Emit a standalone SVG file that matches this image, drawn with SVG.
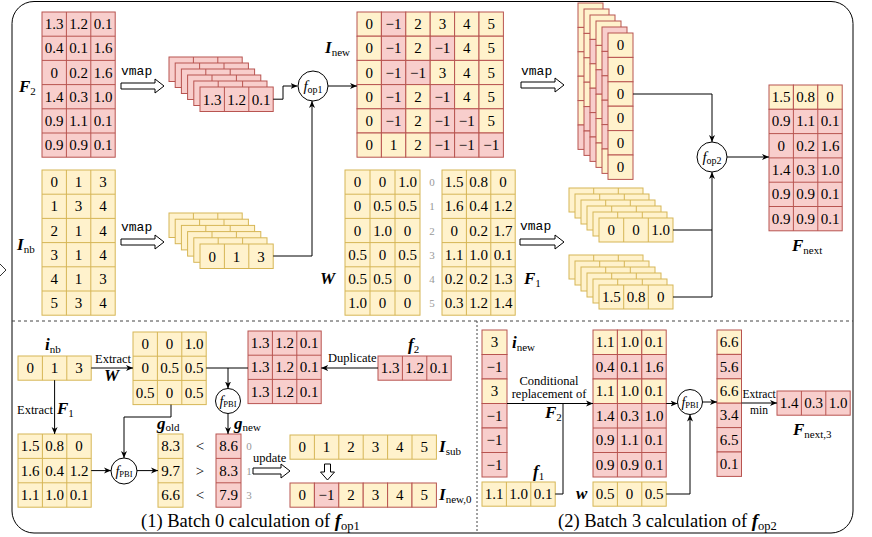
<svg xmlns="http://www.w3.org/2000/svg" xmlns:xlink="http://www.w3.org/1999/xlink" width="872" height="537" viewBox="0 0 872 537">
<style>
.y{fill:#fff2cc;stroke:#d6b656;stroke-width:1}
.r{fill:#f8cecc;stroke:#b85450;stroke-width:1}
.yr{fill:#fff2cc;stroke:#b85450;stroke-width:1}
.gy{fill:none;stroke:#d6b656;stroke-width:1}
.gr{fill:none;stroke:#b85450;stroke-width:1}
.t{font-family:"Liberation Serif",serif;font-size:15px;text-anchor:middle;fill:#000}
.s{font-family:"Liberation Serif",serif;font-size:12.5px;fill:#000}
.sc{font-family:"Liberation Serif",serif;font-size:12.5px;fill:#000;text-anchor:middle}
.m{font-family:"Liberation Serif",serif;font-size:17px;font-weight:bold;font-style:italic;fill:#000}
.sub{font-size:11px;font-weight:normal;font-style:normal}
.idx{font-family:"Liberation Serif",serif;font-size:11px;fill:#999;text-anchor:middle}
.vm{font-family:"Liberation Mono",monospace;font-size:13px;fill:#000}
.cap{font-family:"Liberation Serif",serif;font-size:18.5px;fill:#000}
.c{fill:#fff;stroke:#000;stroke-width:1}
.ci{font-family:"Liberation Serif",serif;font-size:15px;font-style:italic;text-anchor:middle}
.ln{fill:none;stroke:#000;stroke-width:1}
.ha{fill:#fff;stroke:#000;stroke-width:1}
</style>
<defs>
<marker id="a" markerWidth="8" markerHeight="8" refX="7" refY="4" orient="auto" markerUnits="userSpaceOnUse"><path d="M0,1L7,4L0,7L2,4z" fill="#000" stroke="none"/></marker>
<g id="row3r"><rect class="r" width="73.2" height="24.5"/><path class="gr" d="M24.4,0V24.5M48.8,0V24.5"/></g>
<g id="row3y"><rect class="y" width="74" height="24"/><path class="gy" d="M24.7,0V24M49.3,0V24"/></g>
<g id="row3yb"><rect class="y" width="73.2" height="24.5"/><path class="gy" d="M24.4,0V24.5M48.8,0V24.5"/></g>
</defs>

<!-- frame -->
<rect x="12" y="1.5" width="841" height="531.5" rx="22" ry="22" fill="none" stroke="#000" stroke-width="1"/>
<path d="M0,264L6,270L0,276" fill="none" stroke="#333" stroke-width="1"/>
<path d="M12,321H853" fill="none" stroke="#444" stroke-width="1" stroke-dasharray="3,3"/>
<path d="M477,321V533" fill="none" stroke="#444" stroke-width="1" stroke-dasharray="2,2"/>

<!-- F2 -->
<g id="F2" transform="translate(42,12)">
<rect class="r" width="73.2" height="145.2"/>
<path class="gr" d="M24.4,0V145.2M48.8,0V145.2M0,24.2H73.2M0,48.4H73.2M0,72.6H73.2M0,96.8H73.2M0,121H73.2"/>
<text class="t" x="12.2" y="17.1">1.3</text><text class="t" x="36.6" y="17.1">1.2</text><text class="t" x="61" y="17.1">0.1</text>
<text class="t" x="12.2" y="41.3">0.4</text><text class="t" x="36.6" y="41.3">0.1</text><text class="t" x="61" y="41.3">1.6</text>
<text class="t" x="12.2" y="65.5">0</text><text class="t" x="36.6" y="65.5">0.2</text><text class="t" x="61" y="65.5">1.6</text>
<text class="t" x="12.2" y="89.7">1.4</text><text class="t" x="36.6" y="89.7">0.3</text><text class="t" x="61" y="89.7">1.0</text>
<text class="t" x="12.2" y="113.9">0.9</text><text class="t" x="36.6" y="113.9">1.1</text><text class="t" x="61" y="113.9">0.1</text>
<text class="t" x="12.2" y="138.1">0.9</text><text class="t" x="36.6" y="138.1">0.9</text><text class="t" x="61" y="138.1">0.1</text>
</g>
<text class="m" x="19" y="92">F<tspan class="sub" dy="3">2</tspan></text>

<!-- I_nb -->
<g id="Inb" transform="translate(42,170)">
<rect class="y" width="73.2" height="145.2"/>
<path class="gy" d="M24.4,0V145.2M48.8,0V145.2M0,24.2H73.2M0,48.4H73.2M0,72.6H73.2M0,96.8H73.2M0,121H73.2"/>
<text class="t" x="12.2" y="17.1">0</text><text class="t" x="36.6" y="17.1">1</text><text class="t" x="61" y="17.1">3</text>
<text class="t" x="12.2" y="41.3">1</text><text class="t" x="36.6" y="41.3">3</text><text class="t" x="61" y="41.3">4</text>
<text class="t" x="12.2" y="65.5">2</text><text class="t" x="36.6" y="65.5">1</text><text class="t" x="61" y="65.5">4</text>
<text class="t" x="12.2" y="89.7">3</text><text class="t" x="36.6" y="89.7">1</text><text class="t" x="61" y="89.7">4</text>
<text class="t" x="12.2" y="113.9">4</text><text class="t" x="36.6" y="113.9">1</text><text class="t" x="61" y="113.9">3</text>
<text class="t" x="12.2" y="138.1">5</text><text class="t" x="36.6" y="138.1">3</text><text class="t" x="61" y="138.1">4</text>
</g>
<text class="m" x="17" y="250">I<tspan class="sub" dy="3">nb</tspan></text>

<!-- F2 stack -->
<g id="F2stack">
<use xlink:href="#row3r" x="169" y="57"/>
<use xlink:href="#row3r" x="175.2" y="63"/>
<use xlink:href="#row3r" x="181.4" y="69"/>
<use xlink:href="#row3r" x="187.6" y="75"/>
<use xlink:href="#row3r" x="193.8" y="81"/>
<use xlink:href="#row3r" x="200" y="87"/>
<text class="t" x="212.2" y="104.5">1.3</text><text class="t" x="236.6" y="104.5">1.2</text><text class="t" x="261" y="104.5">0.1</text>
</g>

<!-- I_nb stack -->
<g id="Inbstack">
<use xlink:href="#row3yb" x="169" y="213"/>
<use xlink:href="#row3yb" x="175.2" y="219.2"/>
<use xlink:href="#row3yb" x="181.4" y="225.4"/>
<use xlink:href="#row3yb" x="187.6" y="231.6"/>
<use xlink:href="#row3yb" x="193.8" y="237.8"/>
<use xlink:href="#row3yb" x="200" y="244"/>
<text class="t" x="212.2" y="261.5">0</text><text class="t" x="236.6" y="261.5">1</text><text class="t" x="261" y="261.5">3</text>
</g>

<!-- f_op1 -->
<g id="fop1">
<circle class="c" cx="313" cy="86" r="15"/>
<text class="ci" x="313" y="91">f<tspan font-size="10" font-style="normal" dy="2">op1</tspan></text>
</g>

<!-- I_new -->
<g id="Inew" transform="translate(357,12)">
<rect class="yr" x="0" y="0" width="24.4" height="24.2"/><rect class="r" x="24.4" y="0" width="24.4" height="24.2"/><rect class="yr" x="48.8" y="0" width="24.4" height="24.2"/><rect class="yr" x="73.2" y="0" width="24.4" height="24.2"/><rect class="yr" x="97.6" y="0" width="24.4" height="24.2"/><rect class="yr" x="122" y="0" width="24.4" height="24.2"/>
<rect class="yr" x="0" y="24.2" width="24.4" height="24.2"/><rect class="r" x="24.4" y="24.2" width="24.4" height="24.2"/><rect class="yr" x="48.8" y="24.2" width="24.4" height="24.2"/><rect class="r" x="73.2" y="24.2" width="24.4" height="24.2"/><rect class="yr" x="97.6" y="24.2" width="24.4" height="24.2"/><rect class="yr" x="122" y="24.2" width="24.4" height="24.2"/>
<rect class="yr" x="0" y="48.4" width="24.4" height="24.2"/><rect class="r" x="24.4" y="48.4" width="24.4" height="24.2"/><rect class="r" x="48.8" y="48.4" width="24.4" height="24.2"/><rect class="yr" x="73.2" y="48.4" width="24.4" height="24.2"/><rect class="yr" x="97.6" y="48.4" width="24.4" height="24.2"/><rect class="yr" x="122" y="48.4" width="24.4" height="24.2"/>
<rect class="yr" x="0" y="72.6" width="24.4" height="24.2"/><rect class="r" x="24.4" y="72.6" width="24.4" height="24.2"/><rect class="yr" x="48.8" y="72.6" width="24.4" height="24.2"/><rect class="r" x="73.2" y="72.6" width="24.4" height="24.2"/><rect class="yr" x="97.6" y="72.6" width="24.4" height="24.2"/><rect class="yr" x="122" y="72.6" width="24.4" height="24.2"/>
<rect class="yr" x="0" y="96.8" width="24.4" height="24.2"/><rect class="r" x="24.4" y="96.8" width="24.4" height="24.2"/><rect class="yr" x="48.8" y="96.8" width="24.4" height="24.2"/><rect class="r" x="73.2" y="96.8" width="24.4" height="24.2"/><rect class="r" x="97.6" y="96.8" width="24.4" height="24.2"/><rect class="yr" x="122" y="96.8" width="24.4" height="24.2"/>
<rect class="yr" x="0" y="121" width="24.4" height="24.2"/><rect class="yr" x="24.4" y="121" width="24.4" height="24.2"/><rect class="yr" x="48.8" y="121" width="24.4" height="24.2"/><rect class="r" x="73.2" y="121" width="24.4" height="24.2"/><rect class="r" x="97.6" y="121" width="24.4" height="24.2"/><rect class="r" x="122" y="121" width="24.4" height="24.2"/>
<text class="t" x="12.2" y="17.1">0</text><text class="t" x="36.6" y="17.1">−1</text><text class="t" x="61" y="17.1">2</text><text class="t" x="85.4" y="17.1">3</text><text class="t" x="109.8" y="17.1">4</text><text class="t" x="134.2" y="17.1">5</text>
<text class="t" x="12.2" y="41.3">0</text><text class="t" x="36.6" y="41.3">−1</text><text class="t" x="61" y="41.3">2</text><text class="t" x="85.4" y="41.3">−1</text><text class="t" x="109.8" y="41.3">4</text><text class="t" x="134.2" y="41.3">5</text>
<text class="t" x="12.2" y="65.5">0</text><text class="t" x="36.6" y="65.5">−1</text><text class="t" x="61" y="65.5">−1</text><text class="t" x="85.4" y="65.5">3</text><text class="t" x="109.8" y="65.5">4</text><text class="t" x="134.2" y="65.5">5</text>
<text class="t" x="12.2" y="89.7">0</text><text class="t" x="36.6" y="89.7">−1</text><text class="t" x="61" y="89.7">2</text><text class="t" x="85.4" y="89.7">−1</text><text class="t" x="109.8" y="89.7">4</text><text class="t" x="134.2" y="89.7">5</text>
<text class="t" x="12.2" y="113.9">0</text><text class="t" x="36.6" y="113.9">−1</text><text class="t" x="61" y="113.9">2</text><text class="t" x="85.4" y="113.9">−1</text><text class="t" x="109.8" y="113.9">−1</text><text class="t" x="134.2" y="113.9">5</text>
<text class="t" x="12.2" y="138.1">0</text><text class="t" x="36.6" y="138.1">1</text><text class="t" x="61" y="138.1">2</text><text class="t" x="85.4" y="138.1">−1</text><text class="t" x="109.8" y="138.1">−1</text><text class="t" x="134.2" y="138.1">−1</text>
</g>
<text class="m" x="325" y="53">I<tspan class="sub" dy="3">new</tspan></text>

<!-- W -->
<g id="W" transform="translate(345,170)">
<rect class="y" width="75" height="145.2"/>
<path class="gy" d="M25,0V145.2M50,0V145.2M0,24.2H75M0,48.4H75M0,72.6H75M0,96.8H75M0,121H75"/>
<text class="t" x="12.5" y="17.1">0</text><text class="t" x="37.5" y="17.1">0</text><text class="t" x="62.5" y="17.1">1.0</text>
<text class="t" x="12.5" y="41.3">0</text><text class="t" x="37.5" y="41.3">0.5</text><text class="t" x="62.5" y="41.3">0.5</text>
<text class="t" x="12.5" y="65.5">0</text><text class="t" x="37.5" y="65.5">1.0</text><text class="t" x="62.5" y="65.5">0</text>
<text class="t" x="12.5" y="89.7">0.5</text><text class="t" x="37.5" y="89.7">0</text><text class="t" x="62.5" y="89.7">0.5</text>
<text class="t" x="12.5" y="113.9">0.5</text><text class="t" x="37.5" y="113.9">0.5</text><text class="t" x="62.5" y="113.9">0</text>
<text class="t" x="12.5" y="138.1">1.0</text><text class="t" x="37.5" y="138.1">0</text><text class="t" x="62.5" y="138.1">0</text>
</g>
<text class="m" x="320" y="284">W</text>
<g id="idx1">
<text class="idx" x="432" y="186">0</text><text class="idx" x="432" y="210">1</text><text class="idx" x="432" y="234.5">2</text><text class="idx" x="432" y="258.5">3</text><text class="idx" x="432" y="283">4</text><text class="idx" x="432" y="307">5</text>
</g>

<!-- F1 -->
<g id="F1" transform="translate(442,170)">
<rect class="y" width="73.2" height="145.2"/>
<path class="gy" d="M24.4,0V145.2M48.8,0V145.2M0,24.2H73.2M0,48.4H73.2M0,72.6H73.2M0,96.8H73.2M0,121H73.2"/>
<text class="t" x="12.2" y="17.1">1.5</text><text class="t" x="36.6" y="17.1">0.8</text><text class="t" x="61" y="17.1">0</text>
<text class="t" x="12.2" y="41.3">1.6</text><text class="t" x="36.6" y="41.3">0.4</text><text class="t" x="61" y="41.3">1.2</text>
<text class="t" x="12.2" y="65.5">0</text><text class="t" x="36.6" y="65.5">0.2</text><text class="t" x="61" y="65.5">1.7</text>
<text class="t" x="12.2" y="89.7">1.1</text><text class="t" x="36.6" y="89.7">1.0</text><text class="t" x="61" y="89.7">0.1</text>
<text class="t" x="12.2" y="113.9">0.2</text><text class="t" x="36.6" y="113.9">0.2</text><text class="t" x="61" y="113.9">1.3</text>
<text class="t" x="12.2" y="138.1">0.3</text><text class="t" x="36.6" y="138.1">1.2</text><text class="t" x="61" y="138.1">1.4</text>
</g>
<text class="m" x="524" y="284">F<tspan class="sub" dy="3">1</tspan></text>

<!-- vertical stacks (I_new columns) -->
<g id="Inewstack">
<g transform="translate(578,3)">
<rect class="yr" y="0" width="25" height="24.4"/><rect class="yr" y="24.4" width="25" height="24.4"/><rect class="yr" y="48.8" width="25" height="24.4"/><rect class="yr" y="73.2" width="25" height="24.4"/><rect class="yr" y="97.6" width="25" height="24.4"/><rect class="r" y="122" width="25" height="24.4"/>
</g>
<g transform="translate(584,9)">
<rect class="yr" y="0" width="25" height="24.4"/><rect class="yr" y="24.4" width="25" height="24.4"/><rect class="yr" y="48.8" width="25" height="24.4"/><rect class="yr" y="73.2" width="25" height="24.4"/><rect class="r" y="97.6" width="25" height="24.4"/><rect class="r" y="122" width="25" height="24.4"/>
</g>
<g transform="translate(590,15)">
<rect class="yr" y="0" width="25" height="24.4"/><rect class="r" y="24.4" width="25" height="24.4"/><rect class="yr" y="48.8" width="25" height="24.4"/><rect class="r" y="73.2" width="25" height="24.4"/><rect class="r" y="97.6" width="25" height="24.4"/><rect class="r" y="122" width="25" height="24.4"/>
</g>
<g transform="translate(596,21)">
<rect class="yr" y="0" width="25" height="24.4"/><rect class="yr" y="24.4" width="25" height="24.4"/><rect class="r" y="48.8" width="25" height="24.4"/><rect class="yr" y="73.2" width="25" height="24.4"/><rect class="yr" y="97.6" width="25" height="24.4"/><rect class="yr" y="122" width="25" height="24.4"/>
</g>
<g transform="translate(602,27)">
<rect class="r" y="0" width="25" height="24.4"/><rect class="r" y="24.4" width="25" height="24.4"/><rect class="r" y="48.8" width="25" height="24.4"/><rect class="r" y="73.2" width="25" height="24.4"/><rect class="r" y="97.6" width="25" height="24.4"/><rect class="yr" y="122" width="25" height="24.4"/>
</g>
<g transform="translate(608,33)">
<rect class="yr" y="0" width="25" height="24.4"/><rect class="yr" y="24.4" width="25" height="24.4"/><rect class="yr" y="48.8" width="25" height="24.4"/><rect class="yr" y="73.2" width="25" height="24.4"/><rect class="yr" y="97.6" width="25" height="24.4"/><rect class="yr" y="122" width="25" height="24.4"/>
<text class="t" x="12.5" y="17.1">0</text><text class="t" x="12.5" y="41.5">0</text><text class="t" x="12.5" y="65.9">0</text><text class="t" x="12.5" y="90.3">0</text><text class="t" x="12.5" y="114.7">0</text><text class="t" x="12.5" y="139.1">0</text>
</g>
</g>

<!-- W stack right -->
<g id="Wstack">
<use xlink:href="#row3y" x="569" y="188"/>
<use xlink:href="#row3y" x="575" y="194"/>
<use xlink:href="#row3y" x="581" y="200"/>
<use xlink:href="#row3y" x="587" y="206"/>
<use xlink:href="#row3y" x="593" y="212"/>
<use xlink:href="#row3y" x="599" y="218"/>
<text class="t" x="611.3" y="235">0</text><text class="t" x="636" y="235">0</text><text class="t" x="660.7" y="235">1.0</text>
</g>
<!-- F1 stack -->
<g id="F1stack">
<use xlink:href="#row3y" x="569" y="255"/>
<use xlink:href="#row3y" x="575" y="261"/>
<use xlink:href="#row3y" x="581" y="267"/>
<use xlink:href="#row3y" x="587" y="273"/>
<use xlink:href="#row3y" x="593" y="279"/>
<use xlink:href="#row3y" x="599" y="285"/>
<text class="t" x="611.3" y="302">1.5</text><text class="t" x="636" y="302">0.8</text><text class="t" x="660.7" y="302">0</text>
</g>

<!-- f_op2 -->
<g id="fop2">
<circle class="c" cx="712" cy="157" r="15"/>
<text class="ci" x="712" y="162">f<tspan font-size="10" font-style="normal" dy="2">op2</tspan></text>
</g>

<!-- F_next -->
<g id="Fnext" transform="translate(769,85)">
<rect class="yr" x="0" y="0" width="24.4" height="24.3"/><rect class="yr" x="24.4" y="0" width="24.4" height="24.3"/><rect class="yr" x="48.8" y="0" width="24.4" height="24.3"/>
<rect class="r" y="24.3" width="73.2" height="121.5"/>
<path class="gr" d="M24.4,24.3V145.8M48.8,24.3V145.8M0,48.6H73.2M0,72.9H73.2M0,97.2H73.2M0,121.5H73.2"/>
<text class="t" x="12.2" y="17.1">1.5</text><text class="t" x="36.6" y="17.1">0.8</text><text class="t" x="61" y="17.1">0</text>
<text class="t" x="12.2" y="41.4">0.9</text><text class="t" x="36.6" y="41.4">1.1</text><text class="t" x="61" y="41.4">0.1</text>
<text class="t" x="12.2" y="65.7">0</text><text class="t" x="36.6" y="65.7">0.2</text><text class="t" x="61" y="65.7">1.6</text>
<text class="t" x="12.2" y="90">1.4</text><text class="t" x="36.6" y="90">0.3</text><text class="t" x="61" y="90">1.0</text>
<text class="t" x="12.2" y="114.3">0.9</text><text class="t" x="36.6" y="114.3">0.9</text><text class="t" x="61" y="114.3">0.1</text>
<text class="t" x="12.2" y="138.6">0.9</text><text class="t" x="36.6" y="138.6">0.9</text><text class="t" x="61" y="138.6">0.1</text>
</g>
<text class="m" x="792" y="251">F<tspan class="sub" dy="3">next</tspan></text>

<!-- vmap labels -->
<text class="vm" x="121" y="75">vmap</text>
<text class="vm" x="121" y="231">vmap</text>
<text class="vm" x="521" y="75">vmap</text>
<text class="vm" x="520" y="230">vmap</text>

<!-- ===== bottom left ===== -->
<g id="inb" transform="translate(18,356)">
<rect class="y" width="73.2" height="24.2"/><path class="gy" d="M24.4,0V24.2M48.8,0V24.2"/>
<text class="t" x="12.2" y="17.1">0</text><text class="t" x="36.6" y="17.1">1</text><text class="t" x="61" y="17.1">3</text>
</g>
<text class="m" x="45" y="350">i<tspan class="sub" dy="3">nb</tspan></text>

<g id="Wsub" transform="translate(133,332)">
<rect class="y" width="73.2" height="72.6"/><path class="gy" d="M24.4,0V72.6M48.8,0V72.6M0,24.2H73.2M0,48.4H73.2"/>
<text class="t" x="12.2" y="17.1">0</text><text class="t" x="36.6" y="17.1">0</text><text class="t" x="61" y="17.1">1.0</text>
<text class="t" x="12.2" y="41.3">0</text><text class="t" x="36.6" y="41.3">0.5</text><text class="t" x="61" y="41.3">0.5</text>
<text class="t" x="12.2" y="65.5">0.5</text><text class="t" x="36.6" y="65.5">0</text><text class="t" x="61" y="65.5">0.5</text>
</g>
<text class="s" x="95" y="363">Extract</text>
<text class="m" x="104" y="381">W</text>

<g id="F1sub" transform="translate(18,434)">
<rect class="y" width="73.2" height="73.2"/><path class="gy" d="M24.4,0V73.2M48.8,0V73.2M0,24.4H73.2M0,48.8H73.2"/>
<text class="t" x="12.2" y="17.2">1.5</text><text class="t" x="36.6" y="17.2">0.8</text><text class="t" x="61" y="17.2">0</text>
<text class="t" x="12.2" y="41.6">1.6</text><text class="t" x="36.6" y="41.6">0.4</text><text class="t" x="61" y="41.6">1.2</text>
<text class="t" x="12.2" y="66">1.1</text><text class="t" x="36.6" y="66">1.0</text><text class="t" x="61" y="66">0.1</text>
</g>
<text class="s" x="17" y="414">Extract</text>
<text class="m" x="57" y="414">F<tspan class="sub" dy="3">1</tspan></text>

<g id="fPBI1">
<circle class="c" cx="124" cy="471" r="13"/>
<text class="ci" x="124" y="475.5" style="font-size:14px">f<tspan font-size="8.5" font-style="normal" dy="1.5">PBI</tspan></text>
</g>

<g id="gold" transform="translate(158,434)">
<rect class="y" width="25" height="73.2"/><path class="gy" d="M0,24.4H25M0,48.8H25"/>
<text class="t" x="12.5" y="17.2">8.3</text><text class="t" x="12.5" y="41.6">9.7</text><text class="t" x="12.5" y="66">6.6</text>
</g>
<text class="m" x="157" y="429">g<tspan class="sub" dy="2">old</tspan></text>

<g id="cmp">
<text class="t" x="200" y="451">&lt;</text><text class="t" x="200" y="475.5">&gt;</text><text class="t" x="200" y="500">&lt;</text>
</g>

<g id="gnew" transform="translate(216,434)">
<rect class="r" width="25" height="73.2"/><path class="gr" d="M0,24.4H25M0,48.8H25"/>
<text class="t" x="12.5" y="17.2">8.6</text><text class="t" x="12.5" y="41.6">8.3</text><text class="t" x="12.5" y="66">7.9</text>
</g>
<text class="m" x="234" y="429">g<tspan class="sub" dy="2">new</tspan></text>
<g id="idx2">
<text class="idx" x="249" y="450">0</text><text class="idx" x="249" y="474.5">1</text><text class="idx" x="249" y="499">3</text>
</g>

<g id="fPBI2">
<circle class="c" cx="228" cy="401" r="12.5"/>
<text class="ci" x="228" y="405.5" style="font-size:14px">f<tspan font-size="8.5" font-style="normal" dy="1.5">PBI</tspan></text>
</g>

<g id="dup" transform="translate(248,331)">
<rect class="r" width="73.2" height="72.6"/><path class="gr" d="M24.4,0V72.6M48.8,0V72.6M0,24.2H73.2M0,48.4H73.2"/>
<text class="t" x="12.2" y="17.1">1.3</text><text class="t" x="36.6" y="17.1">1.2</text><text class="t" x="61" y="17.1">0.1</text>
<text class="t" x="12.2" y="41.3">1.3</text><text class="t" x="36.6" y="41.3">1.2</text><text class="t" x="61" y="41.3">0.1</text>
<text class="t" x="12.2" y="65.5">1.3</text><text class="t" x="36.6" y="65.5">1.2</text><text class="t" x="61" y="65.5">0.1</text>
</g>
<text class="s" x="328" y="362">Duplicate</text>

<g id="f2row" transform="translate(378,356)">
<rect class="r" width="73.2" height="24.2"/><path class="gr" d="M24.4,0V24.2M48.8,0V24.2"/>
<text class="t" x="12.2" y="17.1">1.3</text><text class="t" x="36.6" y="17.1">1.2</text><text class="t" x="61" y="17.1">0.1</text>
</g>
<text class="m" x="408" y="350">f<tspan class="sub" dy="3">2</tspan></text>

<text class="s" x="253" y="462">update</text>

<g id="Isub" transform="translate(290,435)">
<rect class="y" width="146.4" height="24.2"/><path class="gy" d="M24.4,0V24.2M48.8,0V24.2M73.2,0V24.2M97.6,0V24.2M122,0V24.2"/>
<text class="t" x="12.2" y="17.1">0</text><text class="t" x="36.6" y="17.1">1</text><text class="t" x="61" y="17.1">2</text><text class="t" x="85.4" y="17.1">3</text><text class="t" x="109.8" y="17.1">4</text><text class="t" x="134.2" y="17.1">5</text>
</g>
<text class="m" x="439" y="452">I<tspan class="sub" dy="3">sub</tspan></text>

<g id="Inew0" transform="translate(290,483)">
<rect class="yr" x="0" width="24.4" height="24.2"/><rect class="r" x="24.4" width="24.4" height="24.2"/><rect class="yr" x="48.8" width="24.4" height="24.2"/><rect class="yr" x="73.2" width="24.4" height="24.2"/><rect class="yr" x="97.6" width="24.4" height="24.2"/><rect class="yr" x="122" width="24.4" height="24.2"/>
<text class="t" x="12.2" y="17.1">0</text><text class="t" x="36.6" y="17.1">−1</text><text class="t" x="61" y="17.1">2</text><text class="t" x="85.4" y="17.1">3</text><text class="t" x="109.8" y="17.1">4</text><text class="t" x="134.2" y="17.1">5</text>
</g>
<text class="m" x="439" y="500">I<tspan class="sub" dy="3">new,0</tspan></text>

<text class="cap" x="141" y="527">(1) Batch 0 calculation of <tspan font-weight="bold" font-style="italic" font-size="19">f</tspan><tspan font-size="12.5" dy="3">op1</tspan></text>

<!-- ===== bottom right ===== -->
<g id="inew" transform="translate(482,330)">
<rect class="yr" y="0" width="25" height="24.5"/><rect class="r" y="24.5" width="25" height="24.5"/><rect class="yr" y="49" width="25" height="24.5"/><rect class="r" y="73.5" width="25" height="24.5"/><rect class="r" y="98" width="25" height="24.5"/><rect class="r" y="122.5" width="25" height="24.5"/>
<text class="t" x="12.5" y="17.2">3</text><text class="t" x="12.5" y="41.7">−1</text><text class="t" x="12.5" y="66.2">3</text><text class="t" x="12.5" y="90.7">−1</text><text class="t" x="12.5" y="115.2">−1</text><text class="t" x="12.5" y="139.7">−1</text>
</g>
<text class="m" x="512" y="348">i<tspan class="sub" dy="3">new</tspan></text>

<g id="f1row" transform="translate(482,482)">
<rect class="y" width="73.2" height="24.2"/><path class="gy" d="M24.4,0V24.2M48.8,0V24.2"/>
<text class="t" x="12.2" y="17.1">1.1</text><text class="t" x="36.6" y="17.1">1.0</text><text class="t" x="61" y="17.1">0.1</text>
</g>
<text class="m" x="533" y="477">f<tspan class="sub" dy="3">1</tspan></text>

<text class="sc" x="549" y="385">Conditional</text>
<text class="sc" x="549" y="398">replacement of</text>
<text class="m" x="545" y="418">F<tspan class="sub" dy="3">2</tspan></text>

<g id="condF" transform="translate(593,330)">
<rect class="yr" x="0" y="0" width="24.4" height="24.5"/><rect class="yr" x="24.4" y="0" width="24.4" height="24.5"/><rect class="yr" x="48.8" y="0" width="24.4" height="24.5"/>
<rect class="r" x="0" y="24.5" width="24.4" height="24.5"/><rect class="r" x="24.4" y="24.5" width="24.4" height="24.5"/><rect class="r" x="48.8" y="24.5" width="24.4" height="24.5"/>
<rect class="yr" x="0" y="49" width="24.4" height="24.5"/><rect class="yr" x="24.4" y="49" width="24.4" height="24.5"/><rect class="yr" x="48.8" y="49" width="24.4" height="24.5"/>
<rect class="r" y="73.5" width="73.2" height="73.5"/>
<path class="gr" d="M24.4,73.5V147M48.8,73.5V147M0,98H73.2M0,122.5H73.2"/>
<text class="t" x="12.2" y="17.2">1.1</text><text class="t" x="36.6" y="17.2">1.0</text><text class="t" x="61" y="17.2">0.1</text>
<text class="t" x="12.2" y="41.7">0.4</text><text class="t" x="36.6" y="41.7">0.1</text><text class="t" x="61" y="41.7">1.6</text>
<text class="t" x="12.2" y="66.2">1.1</text><text class="t" x="36.6" y="66.2">1.0</text><text class="t" x="61" y="66.2">0.1</text>
<text class="t" x="12.2" y="90.7">1.4</text><text class="t" x="36.6" y="90.7">0.3</text><text class="t" x="61" y="90.7">1.0</text>
<text class="t" x="12.2" y="115.2">0.9</text><text class="t" x="36.6" y="115.2">1.1</text><text class="t" x="61" y="115.2">0.1</text>
<text class="t" x="12.2" y="139.7">0.9</text><text class="t" x="36.6" y="139.7">0.9</text><text class="t" x="61" y="139.7">0.1</text>
</g>

<g id="wrow" transform="translate(593,482)">
<rect class="y" width="73.2" height="24.2"/><path class="gy" d="M24.4,0V24.2M48.8,0V24.2"/>
<text class="t" x="12.2" y="17.1">0.5</text><text class="t" x="36.6" y="17.1">0</text><text class="t" x="61" y="17.1">0.5</text>
</g>
<text class="m" x="576" y="499">w</text>

<g id="fPBI3">
<circle class="c" cx="690" cy="402" r="12.5"/>
<text class="ci" x="690" y="406.5" style="font-size:14px">f<tspan font-size="8.5" font-style="normal" dy="1.5">PBI</tspan></text>
</g>

<g id="res" transform="translate(717,330)">
<rect class="yr" y="0" width="24.5" height="24.4"/><rect class="r" y="24.4" width="24.5" height="24.4"/><rect class="yr" y="48.8" width="24.5" height="24.4"/><rect class="r" y="73.2" width="24.5" height="24.4"/><rect class="r" y="97.6" width="24.5" height="24.4"/><rect class="r" y="122" width="24.5" height="24.4"/>
<text class="t" x="12.2" y="17.1">6.6</text><text class="t" x="12.2" y="41.5">5.6</text><text class="t" x="12.2" y="65.9">6.6</text><text class="t" x="12.2" y="90.3">3.4</text><text class="t" x="12.2" y="114.7">6.5</text><text class="t" x="12.2" y="139.1">0.1</text>
</g>
<text class="s" x="742.5" y="398" style="font-size:11.5px">Extract</text>
<text class="sc" x="759" y="414" style="font-size:11.5px">min</text>

<g id="Fnext3" transform="translate(777,391)">
<rect class="r" width="73.2" height="24.2"/><path class="gr" d="M24.4,0V24.2M48.8,0V24.2"/>
<text class="t" x="12.2" y="17.1">1.4</text><text class="t" x="36.6" y="17.1">0.3</text><text class="t" x="61" y="17.1">1.0</text>
</g>
<text class="m" x="793" y="435">F<tspan class="sub" dy="3">next,3</tspan></text>

<text class="cap" x="558" y="527">(2) Batch 3 calculation of <tspan font-weight="bold" font-style="italic" font-size="19">f</tspan><tspan font-size="12.5" dy="3">op2</tspan></text>

<!-- connectors -->
<g id="connectors">
<path class="ln" d="M273.2,99.2H283V86H297.5" marker-end="url(#a)"/>
<path class="ln" d="M273.2,256H312V101" marker-end="url(#a)"/>
<path class="ln" d="M328,86H357" marker-end="url(#a)"/>
<path class="ln" d="M633,94H712V142" marker-end="url(#a)"/>
<path class="ln" d="M673,230H712"/>
<path class="ln" d="M673,297H712V172" marker-end="url(#a)"/>
<path class="ln" d="M727,157H769" marker-end="url(#a)"/>
<path class="ln" d="M91.2,368H133" marker-end="url(#a)"/>
<path class="ln" d="M206.2,368H248"/>
<path class="ln" d="M228,368V388.5" marker-end="url(#a)"/>
<path class="ln" d="M228,413.5V434" marker-end="url(#a)"/>
<path class="ln" d="M54.6,380.2V434" marker-end="url(#a)"/>
<path class="ln" d="M171,404.6V417H124V458" marker-end="url(#a)"/>
<path class="ln" d="M91.2,470.6H111" marker-end="url(#a)"/>
<path class="ln" d="M137,470.6H158" marker-end="url(#a)"/>
<path class="ln" d="M378,368H321.2" marker-end="url(#a)"/>
<path class="ln" d="M507,403.5H593" marker-end="url(#a)"/>
<path class="ln" d="M555.2,494H563V403.5"/>
<path class="ln" d="M666.2,403.5H677.5" marker-end="url(#a)"/>
<path class="ln" d="M666.2,494H690V414.5" marker-end="url(#a)"/>
<path class="ln" d="M702.5,402H717" marker-end="url(#a)"/>
<path class="ln" d="M741.5,403H777" marker-end="url(#a)"/>
<!-- hollow arrows -->
<path class="ha" d="M121,83H155V79L164,86L155,93V89H121Z"/>
<path class="ha" d="M121,239H155V235L164,242L155,249V245H121Z"/>
<path class="ha" d="M521,82H555V78L564,85L555,92V88H521Z"/>
<path class="ha" d="M520,239H555V235L564,242L555,249V245H520Z"/>
<path class="ha" d="M253,468H281V464L290,471L281,478V474H253Z"/>
<path class="ha" d="M324.5,464V472H320.5L327.5,480L334.5,472H330.5V464Z"/>
</g>
</svg>
